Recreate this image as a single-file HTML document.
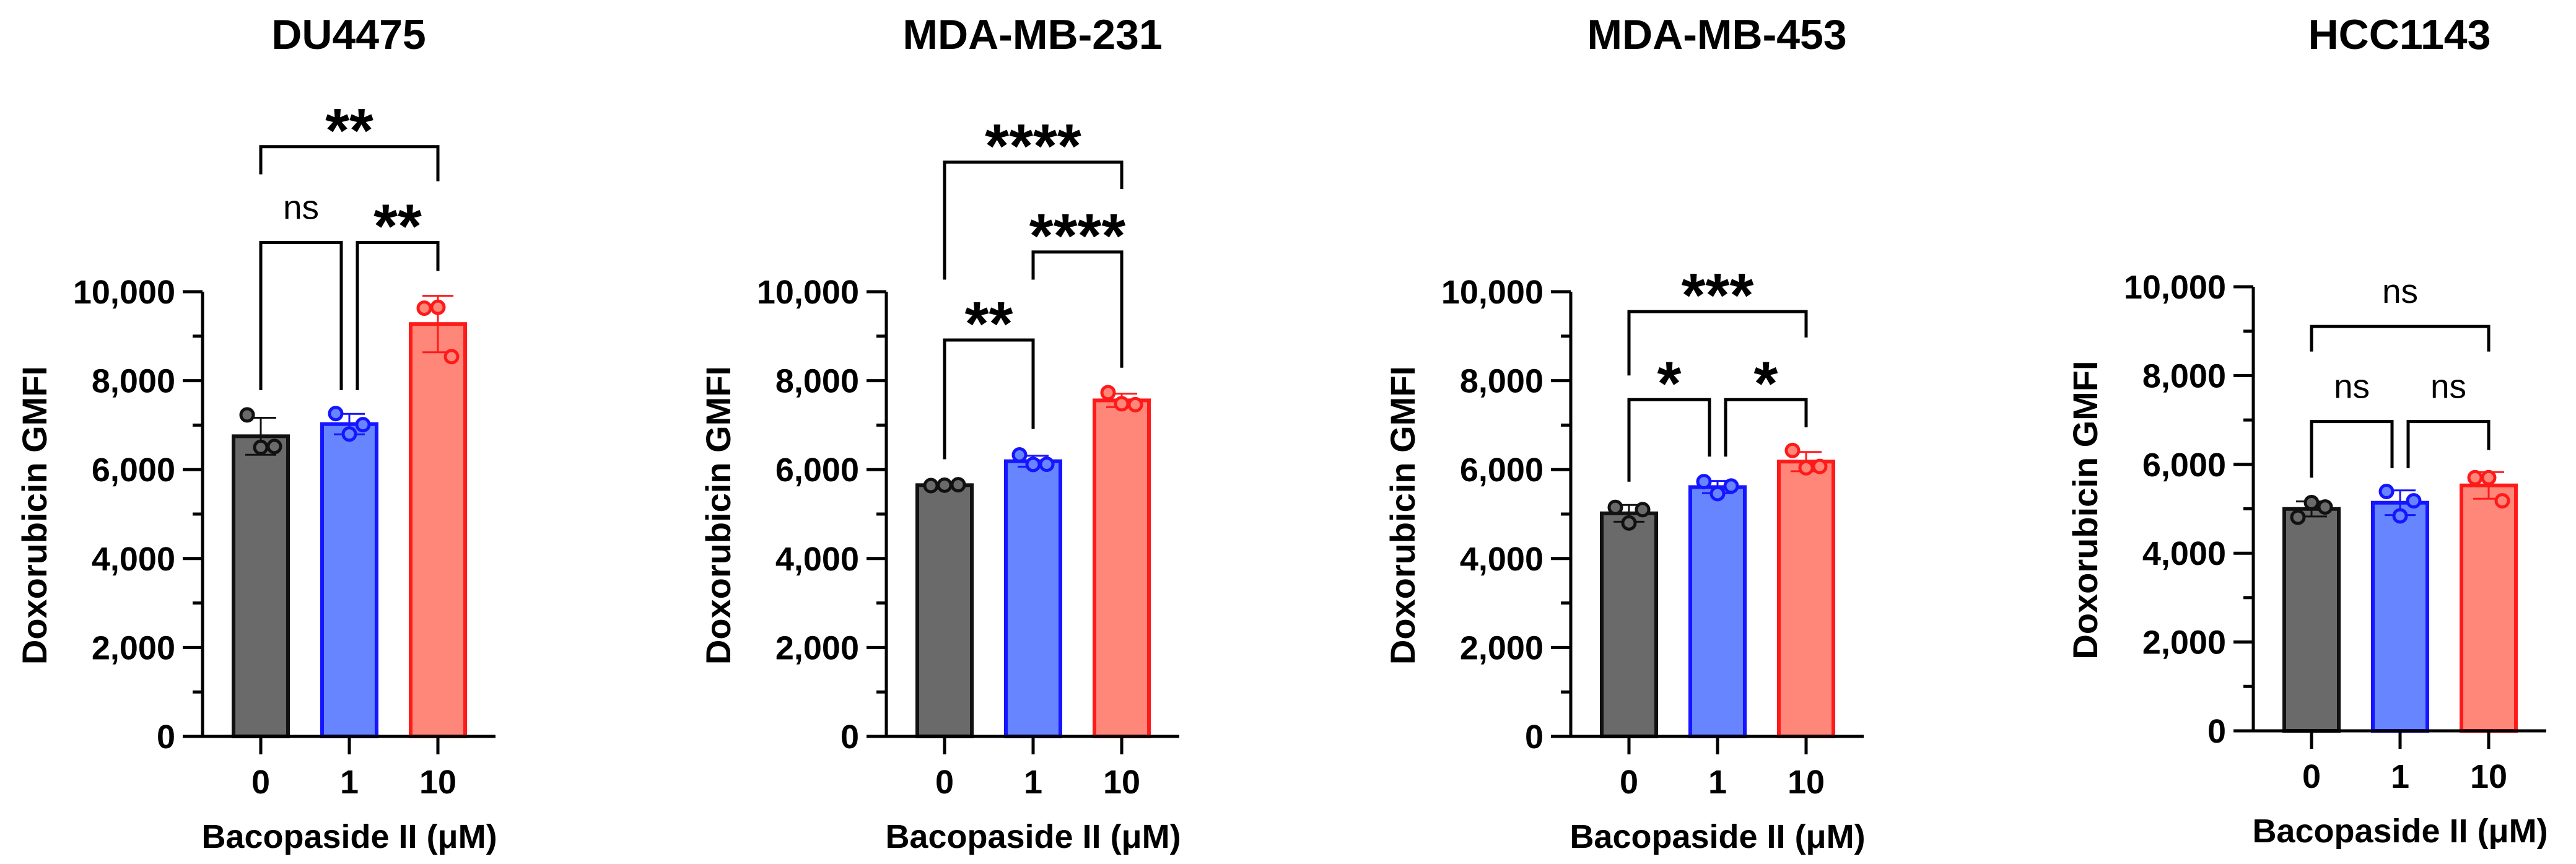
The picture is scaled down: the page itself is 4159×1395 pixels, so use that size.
<!DOCTYPE html>
<html><head><meta charset="utf-8"><style>
html,body{margin:0;padding:0;background:#fff;}
svg{display:block;}
text{font-family:"Liberation Sans",Arial,sans-serif;}
</style></head>
<body>
<svg id="fig" width="4159" height="1395" viewBox="0 0 4159 1395" xmlns="http://www.w3.org/2000/svg"></svg>
<script>
const panelTitles = ["DU4475", "MDA-MB-231", "MDA-MB-453", "HCC1143"];
const categories = ["0", "1", "10"];
const yTicks = [0, 2000, 4000, 6000, 8000, 10000];
const yTickLabels = ["0", "2,000", "4,000", "6,000", "8,000", "10,000"];
const pointsDU4475 = [[7230, 6500, 6520], [7260, 6800, 7010], [9630, 9650, 8540]];
const points231 = [[5640, 5650, 5660], [6330, 6116, 6120], [7730, 7480, 7460]];
const points453 = [[5150, 4800, 5100], [5730, 5460, 5630], [6430, 6040, 6070]];
const points1143 = [[4810, 5140, 5040], [5390, 4840, 5180], [5700, 5700, 5180]];
// brackets: [i, j, barValue, leftLegEnd, rightLegEnd, label]
const bracketsDU4475 = [[0, 2, 13262, 12640, 12485, "**"], [0, 1, 11107, 7786, 7786, "ns"], [1, 2, 11107, 7786, 10466, "**"]];
const brackets231 = [[0, 2, 12913, 10272, 12311, "****"], [1, 2, 10893, 10272, 8291, "****"], [0, 1, 8913, 6233, 6913, "**"]];
const brackets453 = [[0, 2, 9553, 8117, 8971, "***"], [0, 1, 7573, 5728, 6291, "*"], [1, 2, 7573, 6291, 6951, "*"]];
const brackets1143 = [[0, 2, 9105, 8541, 8541, "ns"], [0, 1, 6965, 5700, 5914, "ns"], [1, 2, 6965, 5914, 6323, "ns"]];

const allPoints = [pointsDU4475, points231, points453, points1143];
const allBrackets = [bracketsDU4475, brackets231, brackets453, brackets1143];
const axisXs = [327, 1431, 2536, 3638];
const y0s = [1189, 1189, 1189, 1180];
const yTops = [471, 471, 471, 463];
const fills = ["#6a6a6a", "#6685fe", "#ff877a"];
const strokes = ["#111111", "#1515ff", "#ff1a1a"];
const NS = "http://www.w3.org/2000/svg";
const svg = document.getElementById("fig");

function mk(tag, attrs, parent) {
  const e = document.createElementNS(NS, tag);
  for (const k in attrs) e.setAttribute(k, attrs[k]);
  (parent || svg).appendChild(e);
  return e;
}
function txt(parent, s, x, y, size, weight, anchor, rot) {
  const t = mk("text", {transform: "translate(" + x + "," + y + ")" + (rot ? " rotate(-90)" : ""),
    "font-size": size, "font-weight": weight, "text-anchor": anchor, fill: "#000"}, parent);
  t.textContent = s;
  return t;
}
const mean = a => a.reduce((p, c) => p + c, 0) / a.length;
const sd = a => { const m = mean(a); return Math.sqrt(a.reduce((p, c) => p + (c - m) * (c - m), 0) / (a.length - 1)); };

for (let p = 0; p < 4; p++) {
  const ax = axisXs[p], y0 = y0s[p], yt = yTops[p];
  const yScale = v => y0 - (v / 10000) * (y0 - yt);
  const xScale = i => ax + 94 + i * 143;
  const g = mk("g", {});
  
  

  const title = txt(g, panelTitles[p], ax + 236, 79, 68, "bold", "middle");
  
  

  const pts = allPoints[p];
  for (let i = 0; i < 3; i++) {
    const m = mean(pts[i]), s = sd(pts[i]);
    const cx = xScale(i);
    const bar = mk("rect", {x: cx - 44, y: yScale(m), width: 88, height: y0 - yScale(m), fill: fills[i], stroke: strokes[i], "stroke-width": 6}, g);
    
    
    const eb = mk("path", {d: "M" + cx + "," + yScale(m - s) + "V" + yScale(m + s) + "M" + (cx - 25) + "," + yScale(m + s) + "h50M" + (cx - 25) + "," + yScale(m - s) + "h50",
      stroke: strokes[i], "stroke-width": 3, fill: "none"}, g);
    
    
    const offs = [-22, 0, 22];
    pts[i].forEach((v, k) => {
      const c = mk("circle", {cx: cx + offs[k], cy: yScale(v), r: 10, fill: fills[i], stroke: strokes[i], "stroke-width": 5}, g);
      
      
    });
  }

  let d = "M" + ax + "," + yt + "V" + y0 + "M" + (ax - 32) + "," + y0 + "H" + (ax + 473);
  for (let v = 0; v <= 10000; v += 1000) {
    d += "M" + (ax - (v % 2000 === 0 ? 32 : 16)) + "," + yScale(v) + "H" + ax;
  }
  for (let i = 0; i < 3; i++) d += "M" + xScale(i) + "," + y0 + "V" + (y0 + 29);
  const axes = mk("path", {d: d, stroke: "#000", "stroke-width": 5, fill: "none"}, g);
  
  

  yTicks.forEach((v, k) => {
    const t = txt(g, yTickLabels[k], ax - 44, yScale(v) + 19, 54, "bold", "end");
    
    
  });
  categories.forEach((c, i) => {
    const t = txt(g, c, xScale(i), y0 + 92, 54, "bold", "middle");
    
    
  });
  const xt = txt(g, "Bacopaside II (\u03bcM)", ax + 237, y0 + 180, 54, "bold", "middle");
  
  
  const yTitle = txt(g, "Doxorubicin GMFI", ax - 252, (y0 + yt) / 2 + 2, 56, "bold", "middle", true);
  
  

  allBrackets[p].forEach(b => {
    const [i, j, hv, lv, rv, lab] = b;
    const adj = (j - i === 1 && p !== 1) ? 13 : 0;
    const xl = xScale(i) + (i === 1 ? adj : 0), xr = xScale(j) - (j === 1 ? adj : 0);
    const yh = yScale(hv);
    const br = mk("path", {d: "M" + xl + "," + yScale(lv) + "V" + yh + "H" + xr + "V" + yScale(rv), stroke: "#000", "stroke-width": 5, fill: "none"}, g);
    
    
    const isNs = lab === "ns";
    const t = isNs ? txt(g, lab, (xl + xr) / 2, yh - 52 + 14, 55, "normal", "middle")
                   : txt(g, lab, (xl + xr) / 2, yh - 50 + 58, 100, "bold", "middle");
    
    
  });
}
</script>
</body></html>
